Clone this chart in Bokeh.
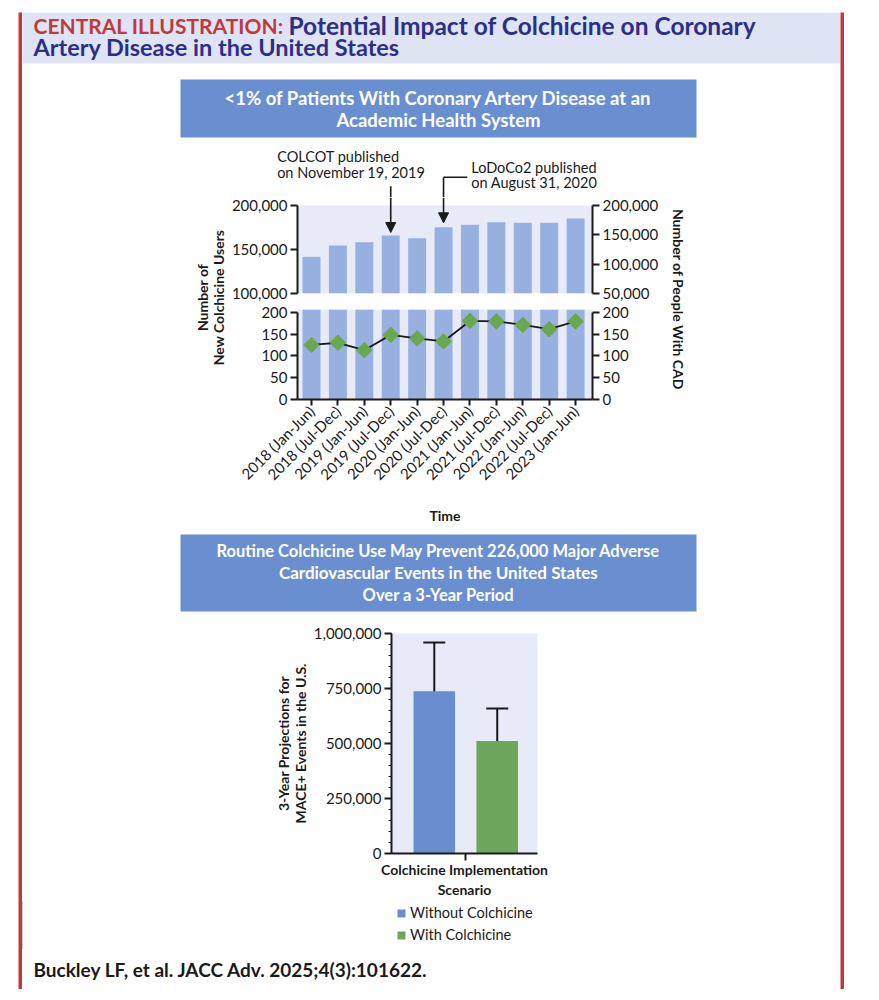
import math
from bokeh.plotting import figure
from bokeh.models import (Range1d, LinearAxis, FixedTicker, NumeralTickFormatter, BoxAnnotation,
                          Label, Arrow, NormalHead, Whisker, TeeHead, ColumnDataSource, Legend,
                          LegendItem, SingleIntervalTicker, Spacer)
from bokeh.layouts import row, column
from bokeh.embed import file_html
from bokeh.resources import INLINE

# ---------------- data ----------------
periods = ["2018 (Jan-Jun)", "2018 (Jul-Dec)", "2019 (Jan-Jun)", "2019 (Jul-Dec)",
           "2020 (Jan-Jun)", "2020 (Jul-Dec)", "2021 (Jan-Jun)", "2021 (Jul-Dec)",
           "2022 (Jan-Jun)", "2022 (Jul-Dec)", "2023 (Jan-Jun)"]
people_with_cad = [112600, 131800, 137400, 148900, 144300, 163000,
                   167100, 171500, 170500, 170500, 177800]
new_colchicine_users = [125, 130, 113, 148, 140, 133, 180, 179, 171, 161, 179]
upper_left_ticks = [100000, 150000, 200000]
upper_right_ticks = [50000, 100000, 150000, 200000]
lower_ticks = [0, 50, 100, 150, 200]

scenarios = ["Without Colchicine", "With Colchicine"]
mace_events = [738000, 511000]
mace_low = [526000, 363000]
mace_high = [959000, 659000]

# ---------------- style ----------------
FONT = "Lato"
TXT = "#1a1a1a"
RED = "#c0393f"
NAVY = "#2d2f86"
HEAD_BG = "#dfe4f4"
BOX_BLUE = "#6a8fd0"
LAV = "#e7ebf7"
BAR = "#97b0e0"
GREEN_PT = "#6aa84f"
SCEN_COLORS = ["#688ecf", "#6fa65e"]
W = 818


def blank(w, h, bg="white", xr=None, yr=None, **kw):
    p = figure(width=w, height=h, x_range=xr or Range1d(0, w), y_range=yr or Range1d(0, h),
               toolbar_location=None, x_axis_location=None, y_axis_location=None,
               min_border=0, outline_line_color=None, background_fill_color=bg,
               border_fill_color=bg, output_backend="svg", title=None, **kw)
    p.grid.visible = False
    return p


def lab(p, x, y, text, size="15px", color=TXT, bold=False, align="left", angle=0,
        font=FONT, **kw):
    p.add_layout(Label(x=x, y=y, text=text, text_font=font, text_font_size=size,
                       text_color=color, text_font_style="bold" if bold else "normal",
                       text_align=align, text_baseline="middle", angle=angle, **kw))


def style_axis(ax, size="15px"):
    ax.axis_line_color = TXT
    ax.axis_line_width = 2
    ax.major_tick_line_color = TXT
    ax.major_tick_line_width = 2
    ax.major_tick_out = 7
    ax.major_tick_in = 0
    ax.minor_tick_line_color = None
    ax.major_label_text_font = FONT
    ax.major_label_text_font_size = size
    ax.major_label_text_color = TXT
    ax.major_label_standoff = 3
    ax.axis_label_text_font = FONT
    ax.axis_label_text_font_style = "bold"
    ax.axis_label_text_font_size = "14px"
    ax.axis_label_text_color = TXT


def chart_fig(**kw):
    p = figure(toolbar_location=None, x_axis_location=None, y_axis_location=None,
               outline_line_color=None, border_fill_color="white",
               output_backend="svg", title=None, **kw)
    p.grid.visible = False
    return p


# ---------------- header + box 1 ----------------
A = blank(W, 127)
A.quad(left=0, right=W, bottom=76, top=127, fill_color=HEAD_BG, line_color=None)
A.quad(left=158, right=674, bottom=2, top=60, fill_color=BOX_BLUE, line_color=None)
lab(A, 11, 114, "CENTRAL ILLUSTRATION:", size="21px", color=RED, bold=True)
lab(A, 266, 114, "Potential Impact of Colchicine on Coronary", size="24.5px", color=NAVY,
    bold=True)
lab(A, 11, 93, "Artery Disease in the United States", size="23.5px", color=NAVY, bold=True)
lab(A, 416, 42, "<1% of Patients With Coronary Artery Disease at an", size="18.5px",
    color="white", bold=True, align="center")
lab(A, 416, 20, "Academic Health System", size="18.5px", color="white", bold=True,
    align="center")

# ---------------- top chart ----------------
idx = list(range(len(periods)))
x_rng = Range1d(-0.53, 10.64)

# annotation strip above the upper panel (same x mapping, right-axis units)
Ann = blank(438, 58, xr=Range1d(-3.18, 13.404), yr=Range1d(213636, 312500))
lab(Ann, -1.30, 284000, "COLCOT published", size="14.5px")
lab(Ann, -1.30, 255700, "on November 19, 2019", size="14.5px")
lab(Ann, 6.05, 264300, "LoDoCo2 published", size="14.5px")
lab(Ann, 6.05, 238700, "on August 31, 2020", size="14.5px")
Ann.add_layout(Arrow(end=None, x_start=3, y_start=232900, x_end=3, y_end=213636,
                     line_color=TXT, line_width=1.6))
Ann.add_layout(Arrow(end=None, x_start=5.90, y_start=248200, x_end=5, y_end=248200,
                     line_color=TXT, line_width=1.6))
Ann.add_layout(Arrow(end=None, x_start=5, y_start=248200, x_end=5, y_end=213636,
                     line_color=TXT, line_width=1.6))

# upper panel
U = chart_fig(frame_width=295, frame_height=96, x_range=x_rng,
              y_range=Range1d(100000, 209091), min_border_left=70, min_border_right=73,
              min_border_top=0, min_border_bottom=9, background_fill_color="white")
U.extra_y_ranges = {"right": Range1d(50000, 213636)}
U.add_layout(BoxAnnotation(bottom=100000, top=200000, fill_color=LAV, fill_alpha=1,
                           line_color=None, level="underlay"))
U.vbar(x=idx, top=people_with_cad, bottom=50000, width=0.68, fill_color=BAR,
       line_color=None, y_range_name="right")
ul = LinearAxis(ticker=FixedTicker(ticks=upper_left_ticks),
                formatter=NumeralTickFormatter(format="0,0"), bounds=(100000, 200000))
style_axis(ul)
U.add_layout(ul, "left")
ur = LinearAxis(y_range_name="right", ticker=FixedTicker(ticks=upper_right_ticks),
                formatter=NumeralTickFormatter(format="0,0"), bounds=(50000, 200000))
style_axis(ur)
U.add_layout(ur, "right")
U.add_layout(Arrow(end=NormalHead(size=10, fill_color=TXT, line_color=TXT, line_width=1),
                   x_start=3, y_start=213636, x_end=3, y_end=people_with_cad[3] + 5000,
                   line_color=TXT, line_width=1.6, y_range_name="right"))
U.add_layout(Arrow(end=NormalHead(size=10, fill_color=TXT, line_color=TXT, line_width=1),
                   x_start=5, y_start=213636, x_end=5, y_end=people_with_cad[5] + 7500,
                   line_color=TXT, line_width=1.6, y_range_name="right"))

# lower panel
L = chart_fig(frame_width=295, frame_height=90, x_range=x_rng, y_range=Range1d(0, 206.2),
              min_border_left=70, min_border_right=73, min_border_top=7,
              min_border_bottom=133, background_fill_color=LAV)
L.vbar(x=idx, top=people_with_cad, bottom=0, width=0.68, fill_color=BAR, line_color=None)
L.line(x=idx, y=new_colchicine_users, line_color=TXT, line_width=1.8)
L.scatter(x=idx, y=new_colchicine_users, marker="square", angle=math.pi / 4, size=11,
          fill_color=GREEN_PT, line_color=GREEN_PT)
for side in ("left", "right"):
    ax = LinearAxis(ticker=FixedTicker(ticks=lower_ticks), bounds=(0, 200))
    style_axis(ax)
    L.add_layout(ax, side)
xa = LinearAxis(ticker=FixedTicker(ticks=idx),
                major_label_overrides={i: periods[i] for i in idx},
                axis_label="Time")
style_axis(xa, size="15px")
xa.major_tick_out = 6
xa.major_label_orientation = math.pi / 4
xa.axis_label_standoff = 15
L.add_layout(xa, "below")

LL = blank(205, 393)
lab(LL, 180, 235, "Number of", size="14px", bold=True, align="center", angle=math.pi / 2)
lab(LL, 196, 235, "New Colchicine Users", size="14px", bold=True, align="center",
    angle=math.pi / 2)
RL = blank(175, 393)
lab(RL, 13, 233, "Number of People With CAD", size="14px", bold=True, align="center",
    angle=-math.pi / 2)

top_chart = row(column(LL), column(row(Ann), U, L), column(RL))

# ---------------- box 2 ----------------
B2 = blank(W, 87)
B2.quad(left=158, right=674, bottom=8, top=85, fill_color=BOX_BLUE, line_color=None)
lab(B2, 416, 69, "Routine Colchicine Use May Prevent 226,000 Major Adverse", size="16.5px",
    color="white", bold=True, align="center")
lab(B2, 416, 47, "Cardiovascular Events in the United States", size="17px",
    color="white", bold=True, align="center")
lab(B2, 416, 25, "Over a 3-Year Period", size="16.5px", color="white", bold=True,
    align="center")

# ---------------- bottom chart ----------------
B = chart_fig(frame_width=146, frame_height=220, x_range=Range1d(-0.68, 1.64),
              y_range=Range1d(0, 1000000), min_border_left=369, min_border_right=303,
              min_border_top=14, min_border_bottom=48, background_fill_color=LAV)
for i, name in enumerate(scenarios):
    src = ColumnDataSource(dict(x=[i], top=[mace_events[i]], low=[mace_low[i]],
                                high=[mace_high[i]]))
    B.vbar(x="x", top="top", bottom=0, width=0.66, fill_color=SCEN_COLORS[i],
           line_color=None, source=src)
    B.add_layout(Whisker(source=src, base="x", upper="high", lower="low",
                         line_color=TXT, line_width=2,
                         upper_head=TeeHead(size=22, line_color=TXT, line_width=2),
                         lower_head=TeeHead(size=22, line_color=TXT, line_width=2)))
by = LinearAxis(ticker=SingleIntervalTicker(interval=250000, num_minor_ticks=5),
                formatter=NumeralTickFormatter(format="0,0"),
                axis_label="3-Year Projections for\nMACE+ Events in the U.S.")
style_axis(by)
by.minor_tick_line_color = TXT
by.minor_tick_out = 3
by.minor_tick_in = 0
by.minor_tick_line_width = 1
by.axis_label_standoff = 2
by.axis_label_text_line_height = 1.0
B.add_layout(by, "left")
bx = LinearAxis(ticker=FixedTicker(ticks=[0.5]), axis_label="Colchicine Implementation\nScenario")
style_axis(bx)
bx.major_label_text_font_size = "1px"
bx.major_label_text_color = None
bx.axis_label_standoff = 0
B.add_layout(bx, "below")

# legend strip (legend swatches come from bar renderers outside the visible range)
LG = blank(W, 48)
lg_renderers = [LG.vbar(x=[-1000], top=[mace_events[i]], width=1,
                        fill_color=SCEN_COLORS[i], line_color=None)
                for i in range(len(scenarios))]
LG.add_layout(Legend(items=[LegendItem(label=scenarios[i], renderers=[lg_renderers[i]])
                            for i in range(len(scenarios))],
                     location=(374, 6), orientation="vertical", margin=0, padding=3,
                     spacing=5, label_height=16, glyph_height=10, glyph_width=10,
                     label_standoff=4, label_text_font=FONT, label_text_font_size="14.5px",
                     label_text_color=TXT, border_line_color=None,
                     background_fill_alpha=0))

# ---------------- footer ----------------
F = blank(W, 40)
lab(F, 11, 20, "Buckley LF, et al. JACC Adv. 2025;4(3):101622.", size="19px", bold=True)

content = column(row(A), top_chart, row(B2), row(B), row(LG), row(F))


def redbar(w, h):
    return blank(w, h, bg=RED, styles={"position": "relative", "z-index": "10"})


framed = column(row(redbar(W + 8, 2)),
                row(column(redbar(4, 977)), content, column(redbar(4, 977))),
                row(redbar(W + 8, 2)))
page = row(Spacer(width=18), column(Spacer(height=10), framed))

open("out.html", "w").write(file_html(page, INLINE))
